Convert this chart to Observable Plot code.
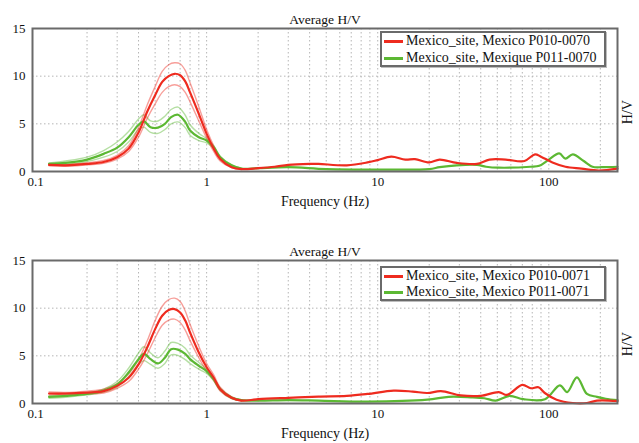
<!DOCTYPE html>
<html>
<head>
<meta charset="utf-8">
<script src="https://cdn.jsdelivr.net/npm/d3@7"></script>
<script src="https://cdn.jsdelivr.net/npm/@observablehq/plot@0.6"></script>
<style>
  body { margin: 0; background: white; font-family: 'Times New Roman', Times, 'Liberation Serif', 'DejaVu Serif', serif; }
  .panel { position: relative; width: 639px; }
  .panel svg, .panel svg text { font-family: 'Times New Roman', Times, 'Liberation Serif', 'DejaVu Serif', serif !important; }
  .legend { position: absolute; left: 380px; width: 222px; background: white;
            border: 2px solid #6a6a6a; box-shadow: 1px 1px 0 #bdbdbd; font-size: 14px; color: #111; }
  .row { position: absolute; left: 2px; height: 16px; display: flex; align-items: center; white-space: nowrap; }
  .sw { width: 19px; height: 3px; margin-right: 3px; }
</style>
</head>
<body>
<div id="chart"></div>
<script>
// ---- tick labels / grid ----
const xTicks = [0.1, 1, 10, 100];
const yTicks = [0, 5, 10, 15];
const yGrid = [5, 10];
const xGrid = [0.2,0.3,0.4,0.5,0.6,0.7,0.8,0.9,1,2,3,4,5,6,7,8,9,10,20,30,40,50,60,70,80,90,100,200];

// ---- Panel 1 (…-0070) ----
const p1Labels = ["Mexico_site, Mexico P010-0070", "Mexico_site, Mexique P011-0070"];
const p1RedFreq = [0.12,0.15,0.2,0.25,0.3,0.35,0.4,0.45,0.5,0.55,0.6,0.65,0.7,0.75,0.8,0.9,1.0,1.1,1.2,1.4,1.6,2,2.5,3,4,4.5,6.6,8.7,10,12,14.5,16.5,20,23,29,38,45,56,72,83,90,105,125,155,196,252];
const p1RedMean = [0.7,0.65,0.8,1.0,1.5,2.4,4.1,6.3,8.0,9.4,10.0,10.25,10.1,9.45,8.3,6.05,3.95,2.4,1.3,0.45,0.25,0.35,0.5,0.7,0.8,0.8,0.65,0.95,1.2,1.55,1.25,1.3,0.95,1.25,0.9,0.8,1.25,1.25,1.1,1.8,1.55,0.95,0.5,0.3,0.1,0.3];
const redLowFreq = [0.12,0.15,0.2,0.25,0.3,0.35,0.4,0.45,0.5,0.55,0.6,0.65,0.7,0.75,0.8,0.9,1.0,1.1,1.2,1.4,1.6];
const p1RedUpper = [0.8,0.75,0.9,1.15,1.7,2.7,4.6,7.0,8.9,10.5,11.2,11.4,11.3,10.6,9.3,6.8,4.4,2.7,1.5,0.55,0.3];
const p1RedLower = [0.6,0.55,0.7,0.85,1.3,2.1,3.6,5.6,7.1,8.3,8.9,9.1,8.9,8.3,7.3,5.3,3.5,2.1,1.1,0.4,0.2];

const p1GreenFreq = [0.12,0.15,0.2,0.25,0.3,0.35,0.4,0.43,0.47,0.52,0.57,0.62,0.68,0.75,0.8,0.9,1.0,1.1,1.2,1.4,1.6,2,3,5,10,20,23,29,38,43,51,78,88,100,115,125,138,160,180,205,252];
const p1GreenMean = [0.8,0.9,1.25,1.85,2.5,3.6,4.9,5.25,4.65,4.6,5.0,5.7,5.95,5.2,4.3,3.6,3.25,2.55,1.5,0.65,0.3,0.35,0.45,0.25,0.2,0.25,0.45,0.65,0.7,0.5,0.4,0.5,0.6,1.25,1.9,1.35,1.8,1.1,0.5,0.45,0.5];
const greenLowFreq = [0.12,0.15,0.2,0.25,0.3,0.35,0.4,0.43,0.47,0.52,0.57,0.62,0.68,0.75,0.8,0.9,1.0,1.1,1.2,1.4,1.6];
const p1GreenUpper = [0.9,1.1,1.5,2.2,3.1,4.2,5.5,5.95,5.3,5.3,5.8,6.5,6.75,5.9,4.9,4.0,3.45,2.7,1.6,0.7,0.35];
const p1GreenLower = [0.7,0.75,1.05,1.5,2.1,3.1,4.4,4.65,4.1,4.0,4.4,5.0,5.2,4.6,3.8,3.25,3.0,2.4,1.4,0.6,0.25];

// ---- Panel 2 (…-0071) ----
const p2Labels = ["Mexico_site, Mexico P010-0071", "Mexico_site, Mexico P011-0071"];
const p2RedFreq = [0.12,0.15,0.2,0.25,0.3,0.35,0.4,0.45,0.5,0.55,0.6,0.65,0.7,0.75,0.8,0.9,1.0,1.1,1.2,1.4,1.6,2,3,4.5,6.6,8.7,12.4,16,19.5,23.4,30.5,40,51,57,70,78.5,87,94.7,111,138,167,191,252];
const p2RedMean = [1.05,1.05,1.15,1.3,1.85,2.7,4.1,5.9,7.8,9.2,9.8,9.9,9.55,8.7,7.45,5.35,3.8,2.7,1.5,0.6,0.3,0.45,0.6,0.73,0.8,1.0,1.35,1.25,1.1,1.3,0.85,0.8,1.2,0.9,1.95,1.6,1.7,1.1,0.4,0.05,0.05,0.3,0.25];
const p2RedUpper = [1.2,1.15,1.3,1.5,2.1,3.1,4.6,6.6,8.7,10.2,10.9,11.05,10.7,9.7,8.3,6.0,4.2,3.0,1.7,0.7,0.35];
const p2RedLower = [0.9,0.95,1.0,1.1,1.6,2.3,3.6,5.2,6.9,8.2,8.75,8.85,8.5,7.7,6.6,4.8,3.4,2.4,1.3,0.5,0.25];

const p2GreenFreq = [0.12,0.15,0.2,0.25,0.3,0.35,0.4,0.43,0.47,0.52,0.57,0.62,0.68,0.75,0.8,0.9,1.0,1.1,1.2,1.4,1.6,2,3,4.5,8.7,19.5,26,35,42,49,59,71,95,116,128,146,167,191,215,252];
const p2GreenMean = [0.7,0.8,1.0,1.35,2.0,3.25,4.65,5.2,4.65,4.2,4.8,5.7,5.65,5.2,4.65,3.95,3.4,2.55,1.5,0.6,0.35,0.3,0.35,0.3,0.2,0.4,0.7,0.65,0.55,0.3,0.8,0.45,0.45,1.9,1.2,2.75,1.0,0.7,0.5,0.35];
const p2GreenUpper = [0.8,0.9,1.1,1.5,2.3,3.7,5.3,5.95,5.3,4.8,5.5,6.4,6.3,5.8,5.1,4.3,3.6,2.7,1.6,0.7,0.4];
const p2GreenLower = [0.55,0.65,0.9,1.2,1.75,2.8,4.1,4.5,4.1,3.7,4.2,5.1,5.05,4.6,4.2,3.6,3.15,2.4,1.4,0.5,0.3];

const RED = "#ee2b1f";
const GREEN = "#5cb833";
const FONT = "'Times New Roman', Times, 'Liberation Serif', 'DejaVu Serif', serif";

function pts(fs, vs) { return fs.map((f, i) => ({f, v: vs[i]})); }

function bandLine(fs, vs, color) {
  return Plot.line(pts(fs, vs), {x: "f", y: "v", stroke: color, strokeWidth: 1.4, strokeOpacity: 0.45, curve: "catmull-rom"});
}
function meanLine(fs, vs, color) {
  return Plot.line(pts(fs, vs), {x: "f", y: "v", stroke: color, strokeWidth: 2.2, curve: "catmull-rom"});
}

function makePanel(cfg) {
  const wrap = document.createElement("div");
  wrap.className = "panel";
  wrap.style.height = cfg.height + "px";
  const chart = Plot.plot({
    width: 639, height: cfg.height,
    marginTop: 28, marginBottom: cfg.height - 171, marginLeft: 32, marginRight: 22,
    style: "font-family: " + FONT + "; font-size: 13px; color: #111; background: white; overflow: visible;",
    x: {type: "log", domain: [0.096, 252]},
    y: {domain: [0, 15]},
    marks: [
      Plot.gridX(xGrid, {stroke: "#b5b5b5", strokeOpacity: 1, strokeDasharray: "1.5,2.5"}),
      Plot.gridY(yGrid, {stroke: "#b5b5b5", strokeOpacity: 1, strokeDasharray: "1.5,2.5"}),
      bandLine(greenLowFreq, cfg.gU, GREEN),
      bandLine(greenLowFreq, cfg.gL, GREEN),
      bandLine(redLowFreq, cfg.rU, RED),
      bandLine(redLowFreq, cfg.rL, RED),
      meanLine(cfg.gF, cfg.gM, GREEN),
      meanLine(cfg.rF, cfg.rM, RED),
      Plot.frame({stroke: "#6a6a6a", strokeWidth: 2}),
      Plot.axisX(xTicks, {tickSize: 0, tickPadding: 5, tickFormat: d => String(d), label: null, fontFamily: FONT, fontSize: 13}),
      Plot.axisY(yTicks, {tickSize: 0, tickPadding: 7, label: null, fontFamily: FONT, fontSize: 13}),
      Plot.text(["Average H/V"], {text: d => d, frameAnchor: "top", dy: -14, fontFamily: FONT, fontSize: 13.5}),
      Plot.text(["Frequency (Hz)"], {text: d => d, frameAnchor: "bottom", dy: 34, fontFamily: FONT, fontSize: 14}),
      Plot.text(["H/V"], {text: d => d, frameAnchor: "right", dx: 10, rotate: -90, fontFamily: FONT, fontSize: 14})
    ]
  });
  wrap.appendChild(chart);
  const lg = document.createElement("div");
  lg.className = "legend";
  lg.style.top = cfg.legendTop + "px";
  lg.style.height = cfg.legendH + "px";
  [[cfg.labels[0], RED], [cfg.labels[1], GREEN]].forEach(([t, c], i) => {
    const r = document.createElement("div");
    r.className = "row";
    r.style.top = (cfg.rowTops[i]) + "px";
    const sw = document.createElement("div");
    sw.className = "sw"; sw.style.background = c;
    const tx = document.createElement("span");
    tx.textContent = t;
    r.appendChild(sw); r.appendChild(tx);
    lg.appendChild(r);
  });
  wrap.appendChild(lg);
  return wrap;
}

const root = document.getElementById("chart");
root.appendChild(makePanel({height: 232, labels: p1Labels,
  rF: p1RedFreq, rM: p1RedMean, rU: p1RedUpper, rL: p1RedLower,
  gF: p1GreenFreq, gM: p1GreenMean, gU: p1GreenUpper, gL: p1GreenLower,
  legendTop: 31, legendH: 32, rowTops: [0, 17]}));
root.appendChild(makePanel({height: 211, labels: p2Labels,
  rF: p2RedFreq, rM: p2RedMean, rU: p2RedUpper, rL: p2RedLower,
  gF: p2GreenFreq, gM: p2GreenMean, gU: p2GreenUpper, gL: p2GreenLower,
  legendTop: 34, legendH: 31, rowTops: [0, 16]}));
</script>
</body>
</html>
